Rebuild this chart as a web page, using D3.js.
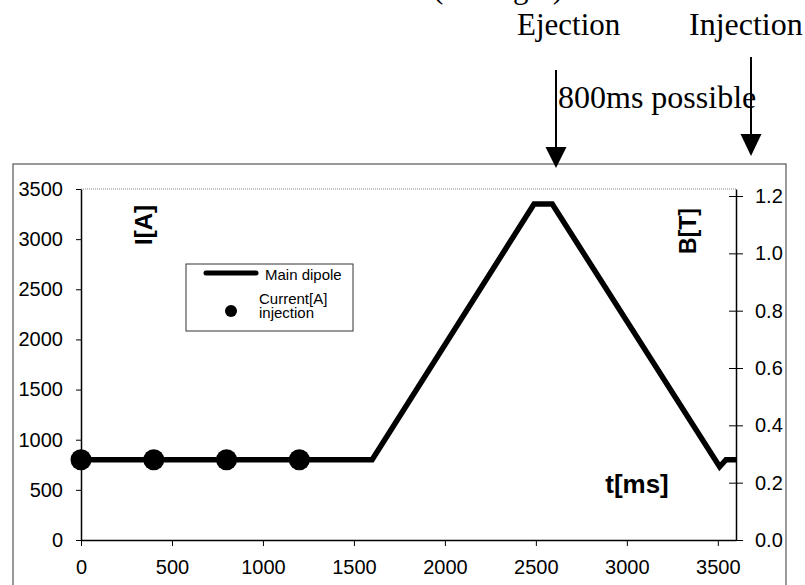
<!DOCTYPE html>
<html>
<head>
<meta charset="utf-8">
<script src="https://cdn.jsdelivr.net/npm/d3@7"></script>
<style>
  body { margin: 0; background: #fff; }
  svg { display: block; }
</style>
</head>
<body>
<div id="chart"></div>
<script>
// Main dipole cycle (current vs time) and injection points
const dipoleT = [0, 1600, 2490, 2590, 3510, 3545, 3600];
const dipoleI = [800, 800, 3350, 3350, 730, 800, 800];
const injT = [0, 400, 800, 1200];
const injI = [800, 800, 800, 800];

const xTicks = [0, 500, 1000, 1500, 2000, 2500, 3000, 3500];
const ampTicks = [0, 500, 1000, 1500, 2000, 2500, 3000, 3500];
const teslaTicks = [0, 0.2, 0.4, 0.6, 0.8, 1.0, 1.2];

const width = 805, height = 585;
const plot = {left: 81, right: 736, top: 189, bottom: 540};

const svg = d3.select("#chart")
    .append("svg")
    .attr("width", width)
    .attr("height", height);

// outer frame of the figure
svg.append("rect")
    .attr("x", 13).attr("y", 164)
    .attr("width", 773).attr("height", 440)
    .attr("fill", "none")
    .attr("stroke", "#555")
    .attr("stroke-width", 1.2);

const x = d3.scaleLinear().domain([0, 3600]).range([plot.left, plot.right]);
const yA = d3.scaleLinear().domain([0, 3500]).range([plot.bottom, plot.top]);
const yT = d3.scaleLinear().domain([0, 1.2245]).range([plot.bottom, plot.top]);

// dotted top border of plot area
svg.append("line")
    .attr("x1", plot.left).attr("x2", plot.right)
    .attr("y1", plot.top).attr("y2", plot.top)
    .attr("stroke", "#888")
    .attr("stroke-dasharray", "1,1");

const sans = "'Liberation Sans', Arial, sans-serif";
const tickFont = g => g.selectAll("text")
    .attr("font-family", sans)
    .attr("font-size", 20)
    .attr("fill", "#000");

svg.append("g")
    .attr("transform", `translate(0,${plot.bottom})`)
    .call(d3.axisBottom(x).tickValues(xTicks).tickFormat(d3.format("d"))
        .tickSizeInner(6).tickSizeOuter(0).tickPadding(14))
    .call(g => g.select(".domain").attr("stroke-width", 1.5))
    .call(tickFont);

svg.append("g")
    .attr("transform", `translate(${plot.left},0)`)
    .call(d3.axisLeft(yA).tickValues(ampTicks).tickFormat(d3.format("d"))
        .tickSizeInner(5).tickSizeOuter(0).tickPadding(13))
    .call(g => g.select(".domain").attr("stroke-width", 1.5))
    .call(tickFont);

svg.append("g")
    .attr("transform", `translate(${plot.right},0)`)
    .call(d3.axisRight(yT).tickValues(teslaTicks).tickFormat(d3.format(".1f"))
        .tickSizeInner(6).tickSizeOuter(0).tickPadding(13))
    .call(g => g.select(".domain").attr("stroke-width", 1.5))
    .call(g => g.selectAll(".tick line").attr("x1", -7).attr("x2", 7))
    .call(tickFont);

// main dipole line
const pts = dipoleT.map((t, i) => [t, dipoleI[i]]);
svg.append("path")
    .datum(pts)
    .attr("fill", "none")
    .attr("stroke", "#000")
    .attr("stroke-width", 5.5)
    .attr("d", d3.line().x(d => x(d[0])).y(d => yA(d[1])));

// injection points
svg.append("g")
    .selectAll("circle")
    .data(injT.map((t, i) => [t, injI[i]]))
    .join("circle")
    .attr("cx", d => x(d[0]))
    .attr("cy", d => yA(d[1]))
    .attr("r", 10.5)
    .attr("fill", "#000");

// axis labels inside plot
svg.append("text")
    .attr("transform", "translate(143,225) rotate(-90)")
    .attr("text-anchor", "middle").attr("dominant-baseline", "central")
    .attr("font-family", sans).attr("font-weight", "bold").attr("font-size", 24)
    .text("I[A]");
svg.append("text")
    .attr("transform", "translate(688,231) rotate(-90)")
    .attr("text-anchor", "middle").attr("dominant-baseline", "central")
    .attr("font-family", sans).attr("font-weight", "bold").attr("font-size", 23)
    .text("B[T]");
svg.append("text")
    .attr("x", 637).attr("y", 484)
    .attr("text-anchor", "middle").attr("dominant-baseline", "central")
    .attr("font-family", sans).attr("font-weight", "bold").attr("font-size", 26)
    .text("t[ms]");

// legend
const lg = svg.append("g");
lg.append("rect")
    .attr("x", 186).attr("y", 264).attr("width", 167).attr("height", 67)
    .attr("fill", "#fff").attr("stroke", "#333").attr("stroke-width", 1);
lg.append("line")
    .attr("x1", 206).attr("x2", 256).attr("y1", 273).attr("y2", 273)
    .attr("stroke", "#000").attr("stroke-width", 5).attr("stroke-linecap", "round");
lg.append("circle").attr("cx", 231).attr("cy", 311).attr("r", 6).attr("fill", "#000");
const legText = (tx, ty, s) => lg.append("text")
    .attr("x", tx).attr("y", ty).attr("dominant-baseline", "central")
    .attr("font-family", sans).attr("font-size", 15).text(s);
legText(265, 274, "Main dipole");
legText(259, 298, "Current[A]");
legText(259, 312, "injection");

// annotations above the chart
const serif = "'Liberation Serif', 'Times New Roman', serif";
const ann = (tx, ty, s, fs) => svg.append("text")
    .attr("x", tx).attr("y", ty)
    .attr("font-family", serif).attr("font-size", fs).text(s);
ann(433, -2, "(in length)", 31);
ann(517, 35, "Ejection", 31);
ann(689, 35, "Injection", 32);
ann(558, 108, "800ms possible", 32);

function arrow(ax, y0, yHead, yTip) {
    svg.append("line")
        .attr("x1", ax).attr("x2", ax).attr("y1", y0).attr("y2", yHead + 2)
        .attr("stroke", "#000").attr("stroke-width", 2);
    svg.append("path")
        .attr("d", `M${ax - 10.5},${yHead}L${ax + 10.5},${yHead}L${ax},${yTip}Z`)
        .attr("fill", "#000");
}
arrow(556, 70, 147, 168);
arrow(751, 57, 134, 156);
</script>
</body>
</html>
